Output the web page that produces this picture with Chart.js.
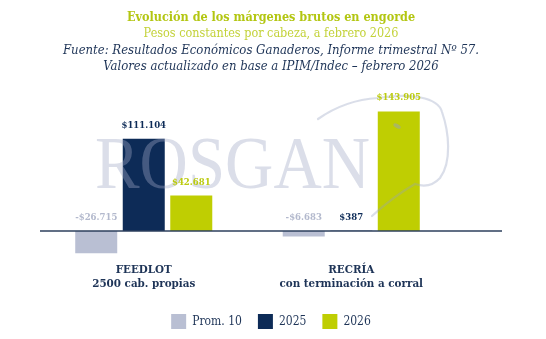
<!DOCTYPE html>
<html>
<head>
<meta charset="utf-8">
<script src="https://cdn.jsdelivr.net/npm/chart.js@4.4.1/dist/chart.umd.min.js"></script>
<style>
  html, body { margin: 0; padding: 0; background: #fff; }
  #wrap { width: 546px; height: 339px; }
</style>
</head>
<body>
<div id="wrap"><canvas id="margenChart" width="546" height="339"></canvas></div>
<script>
// Margenes brutos en engorde - pesos constantes por cabeza

const categories = [['FEEDLOT', '2500 cab. propias'], ['RECRÍA', 'con terminación a corral']]
const series_names = ['Prom. 10', '2025', '2026']
const prom_10 = [-26715, -6683]
const values_2025 = [111104, 387]
const values_2026 = [42681, 143905]

const title_lines = [
  'Evolución de los márgenes brutos en engorde',
  'Pesos constantes por cabeza, a febrero 2026',
  'Fuente: Resultados Económicos Ganaderos, Informe trimestral Nº 57.',
  'Valores actualizado en base a IPIM/Indec – febrero 2026'
]

const GRAY = '#b9bfd3'
const NAVY = '#0d2b57'
const LIME = '#bfce02'
const SERIF = '"DejaVu Serif", serif'

function format_peso(v){
  const s = Math.abs(v).toString().replace(/\B(?=(\d{3})+(?!\d))/g, '.')
  return (v < 0 ? '-$' : '$') + s
}

// header text
const headerPlugin = {
  id: 'header',
  afterDraw(chart){
    const ctx = chart.ctx
    const cx = 271
    ctx.save()
    ctx.textAlign = 'center'
    ctx.textBaseline = 'alphabetic'
    ctx.fillStyle = '#b3c612'
    ctx.font = 'bold condensed 12.5px ' + SERIF
    ctx.fillText(title_lines[0], cx, 21)
    ctx.fillStyle = '#c3d239'
    ctx.font = 'condensed 12.5px ' + SERIF
    ctx.fillText(title_lines[1], cx, 37)
    ctx.fillStyle = '#1e3457'
    ctx.font = 'italic condensed 13px ' + SERIF
    ctx.fillText(title_lines[2], cx, 54)
    ctx.fillText(title_lines[3], cx, 70)
    ctx.restore()
  }
}

// zero line, watermark and value labels
const marksPlugin = {
  id: 'marks',
  afterDatasetsDraw(chart){
    const ctx = chart.ctx
    const area = chart.chartArea
    const y0 = chart.scales.y.getPixelForValue(0)

    ctx.save()
    // watermark text
    ctx.font = '74px "Liberation Serif", serif'
    ctx.fillStyle = 'rgba(160, 168, 196, 0.38)'
    ctx.textBaseline = 'alphabetic'
    const w = ctx.measureText('ROSGAN').width
    ctx.translate(95, 188)
    ctx.scale(275 / w, 1)
    ctx.fillText('ROSGAN', 0, 0)
    ctx.restore()

    // cow outline
    ctx.save()
    ctx.strokeStyle = 'rgba(150, 160, 192, 0.35)'
    ctx.lineWidth = 2.2
    ctx.lineCap = 'round'
    ctx.beginPath()
    ctx.moveTo(318, 119)
    ctx.quadraticCurveTo(345, 100, 378, 98)
    ctx.bezierCurveTo(410, 93, 438, 97, 442, 112)
    ctx.bezierCurveTo(449, 132, 452, 162, 440, 178)
    ctx.quadraticCurveTo(430, 189, 415, 184)
    ctx.moveTo(415, 184)
    ctx.quadraticCurveTo(394, 196, 372, 216)
    ctx.stroke()
    ctx.fillStyle = 'rgba(150, 160, 192, 0.5)'
    ctx.beginPath()
    ctx.ellipse(397, 126, 4, 2, 0.5, 0, Math.PI * 2)
    ctx.fill()
    ctx.restore()

    // baseline
    ctx.save()
    ctx.strokeStyle = '#2c3f5c'
    ctx.lineWidth = 1.5
    ctx.beginPath()
    ctx.moveTo(area.left, y0)
    ctx.lineTo(area.right, y0)
    ctx.stroke()
    ctx.restore()

    // value labels
    ctx.save()
    ctx.font = 'bold condensed 9.5px ' + SERIF
    ctx.textAlign = 'center'
    ctx.textBaseline = 'alphabetic'
    chart.data.datasets.forEach((ds, di) => {
      const meta = chart.getDatasetMeta(di)
      meta.data.forEach((bar, i) => {
        const top = Math.min(bar.y, bar.base)
        ctx.fillStyle = ds.labelColor
        ctx.fillText(format_peso(ds.data[i].y), bar.x, top - 11)
      })
    })
    ctx.restore()
  }
}

const ctx = document.getElementById('margenChart').getContext('2d')

const chart = new Chart(ctx, {
  type: 'bar',
  data: {
    datasets: [
      {
        label: series_names[0],
        data: prom_10.map((v, i) => ({ x: i, y: v })),
        backgroundColor: GRAY,
        labelColor: '#b3b9cd'
      },
      {
        label: series_names[1],
        data: values_2025.map((v, i) => ({ x: i, y: v })),
        backgroundColor: NAVY,
        labelColor: NAVY
      },
      {
        label: series_names[2],
        data: values_2026.map((v, i) => ({ x: i, y: v })),
        backgroundColor: LIME,
        labelColor: '#bccb10'
      }
    ]
  },
  options: {
    responsive: false,
    animation: false,
    categoryPercentage: 0.687,
    barPercentage: 0.884,
    layout: {
      padding: { top: 98, left: 40, right: 44, bottom: 0 }
    },
    plugins: {
      title: { display: false },
      tooltip: { enabled: false },
      legend: {
        position: 'bottom',
        labels: {
          boxWidth: 15,
          boxHeight: 15,
          padding: 16,
          color: '#1e3457',
          font: { family: SERIF, size: 12, weight: 'condensed' }
        }
      }
    },
    scales: {
      x: {
        type: 'linear',
        offset: false,
        min: -0.5,
        max: 1.7265,
        afterBuildTicks: axis => {
          axis.ticks = [{ value: 0 }, { value: 1 }]
        },
        grid: { display: false, drawTicks: false },
        border: { display: false },
        ticks: {
          padding: 7,
          color: '#1e3457',
          font: { family: SERIF, size: 11.5, weight: 'bold condensed', lineHeight: 1.22 },
          callback: v => categories[v]
        }
      },
      y: {
        display: false,
        min: -30000,
        max: 160000
      }
    }
  },
  plugins: [headerPlugin, marksPlugin]
})
</script>
</body>
</html>
